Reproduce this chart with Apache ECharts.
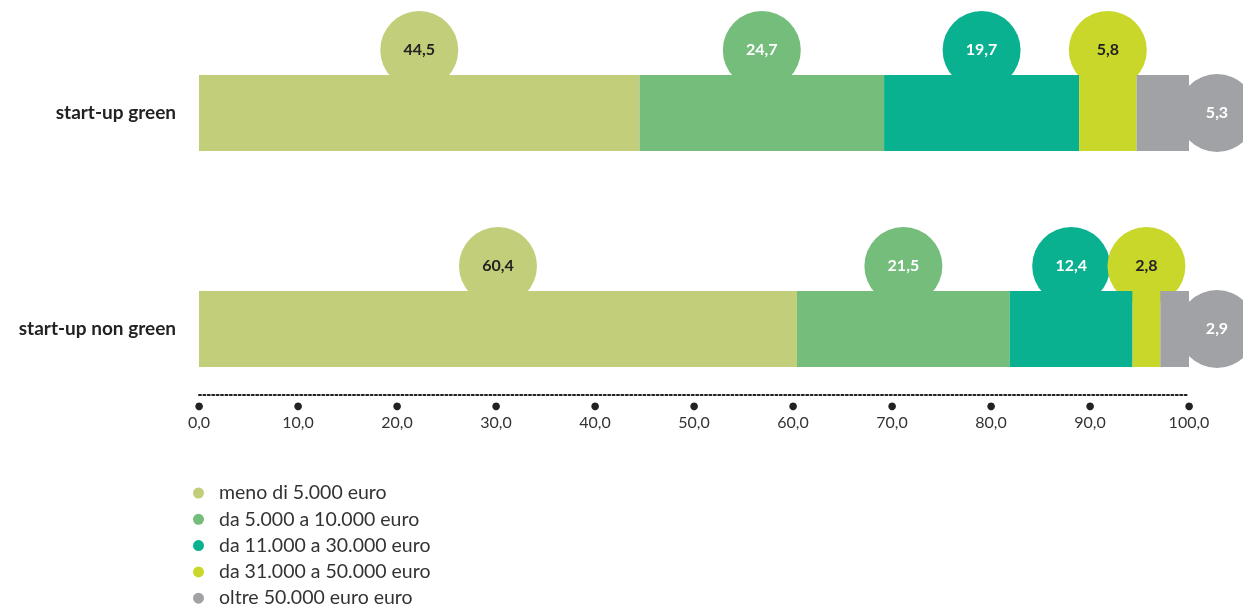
<!DOCTYPE html>
<html><head><meta charset="utf-8">
<script src="https://cdn.jsdelivr.net/npm/echarts@6/dist/echarts.min.js"></script>
<style>html,body{margin:0;padding:0;background:#fff}#c{width:1243px;height:605px}</style>
</head><body><div id="c"></div>
<script>
const categories = ['start-up green', 'start-up non green'];
const seriesNames = ['meno di 5.000 euro', 'da 5.000 a 10.000 euro', 'da 11.000 a 30.000 euro', 'da 31.000 a 50.000 euro', 'oltre 50.000 euro euro'];
const valMeno5 = [44.5, 60.4];
const val5to10 = [24.7, 21.5];
const val11to30 = [19.7, 12.4];
const val31to50 = [5.8, 2.8];
const valOltre50 = [5.3, 2.9];
const xTicks = [0, 10, 20, 30, 40, 50, 60, 70, 80, 90, 100];

const values = [valMeno5, val5to10, val11to30, val31to50, valOltre50];
const colors = ['#c2ce7a', '#75bd7b', '#0ab190', '#c8d72a', '#a1a2a5'];
const labelColors = ['#222', '#fff', '#fff', '#222', '#fff'];
const FONT = 'Lato, "Open Sans", sans-serif';
const fmt = v => v.toFixed(1).replace('.', ',');

const series = [];
values.forEach((vals, i) => {
  series.push({
    name: seriesNames[i], type: 'bar', stack: 'total', barWidth: 76, z: 3,
    itemStyle: { color: colors[i] }, data: vals, silent: true
  });
});
values.forEach((vals, i) => {
  const isLast = i === values.length - 1;
  const data = vals.map((v, ci) => {
    let start = 0;
    for (let k = 0; k < i; k++) start += values[k][ci];
    return { value: [isLast ? start + v : start + v / 2, categories[ci]], raw: v };
  });
  series.push({
    name: seriesNames[i], type: 'scatter', z: 1, clip: false, silent: true,
    symbol: 'circle', symbolSize: 78,
    symbolOffset: isLast ? [28, 0] : [0, -63],
    itemStyle: { color: colors[i], opacity: 1 },
    label: {
      show: true, position: 'inside', color: labelColors[i],
      fontFamily: FONT, fontWeight: 'bold', fontSize: 16,
      formatter: p => fmt(p.data.raw)
    },
    data
  });
});

const legends = seriesNames.map((n, i) => ({
  orient: 'vertical', left: 193, top: 483 + i * 26.3, icon: 'circle', padding: 0,
  itemWidth: 11, itemHeight: 11,
  data: [n],
  textStyle: { fontSize: 19.5, color: '#333', fontFamily: FONT, padding: [0, 0, 0, 10] },
  selectedMode: false
}));

const chart = echarts.init(document.getElementById('c'), null, { renderer: 'canvas' });
chart.setOption({
  animation: false,
  backgroundColor: '#fff',
  textStyle: { fontFamily: FONT },
  grid: { left: 199, right: 54, top: 5, height: 432, containLabel: false },
  xAxis: {
    type: 'value', min: 0, max: 100, interval: 10, offset: -42,
    axisLine: { show: true, lineStyle: { color: '#222', width: 2, type: [2, 2.4] } },
    axisTick: { show: false }, splitLine: { show: false },
    axisLabel: {
      margin: 5, customValues: xTicks,
      formatter: v => '{d|●}\n{v|' + fmt(v) + '}',
      rich: {
        d: { fontSize: 10, lineHeight: 12, color: '#222', fontFamily: 'DejaVu Sans' },
        v: { fontSize: 16, lineHeight: 22, color: '#333', fontFamily: FONT }
      }
    }
  },
  yAxis: {
    type: 'category', data: categories, inverse: true,
    axisLine: { show: false }, axisTick: { show: false },
    axisLabel: { margin: 23, color: '#222', fontSize: 19, fontWeight: 'bold', fontFamily: FONT }
  },
  legend: legends,
  series
});
</script></body></html>
